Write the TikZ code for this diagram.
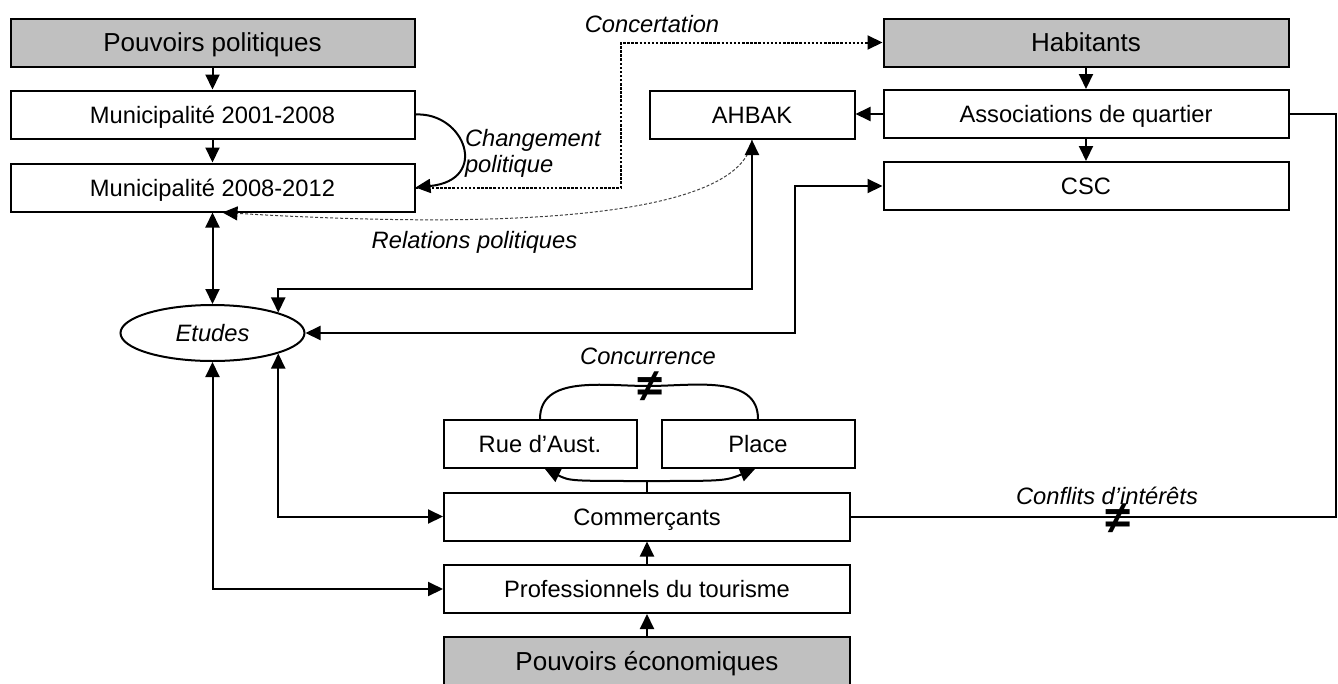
\documentclass[tikz,border=0pt]{standalone}
\usepackage{fontspec}
\setmainfont{Liberation Sans}
\usetikzlibrary{arrows.meta,shapes.geometric,calc}
\definecolor{hdr}{HTML}{C0C0C0}
\begin{document}
\begin{tikzpicture}[x=1pt,y=-1pt,
  line width=2pt,
  box/.style={draw, rectangle, minimum height=48pt, inner sep=0pt,
    font=\fontsize{23.7}{28}\selectfont, text height=17pt, text depth=0pt},
  hdrbox/.style={box, fill=hdr, font=\fontsize{26}{30}\selectfont, text height=18.6pt},
  lbl/.style={font=\fontsize{23.7}{28}\itshape\selectfont, inner sep=0pt, text height=17pt, text depth=0pt},
  tip/.style={-{Triangle[length=15pt,width=14pt]}},
  tips/.style={{Triangle[length=15pt,width=14pt]}-{Triangle[length=15pt,width=14pt]}},
  dotline/.style={dash pattern=on 2.5pt off 1.6pt},
  reldash/.style={draw=black!75, line width=1pt, dash pattern=on 3pt off 2pt},
  neq/.style={font=\fontsize{46}{46}\bfseries\selectfont, inner sep=0pt}
]
\useasboundingbox (0,0) rectangle (1338,683);

% nodes
\node[hdrbox, minimum width=404pt] (pp) at (212.5,42.5) {Pouvoirs politiques};
\node[box, minimum width=404pt] (m1) at (212.5,114.5) {Municipalité 2001-2008};
\node[box, minimum width=404pt] (m2) at (212.5,187.5) {Municipalité 2008-2012};
\node[hdrbox, minimum width=405pt] (hab) at (1086,42.5) {Habitants};
\node[box, minimum width=405pt] (assoc) at (1086,114) {Associations de quartier};
\node[box, minimum width=405pt] (csc) at (1086,186) {CSC};
\node[box, minimum width=205pt] (ahbak) at (752,115) {AHBAK};
\node[lbl, draw, ellipse, minimum width=184pt, minimum height=56pt] (etudes) at (212.5,333) {Etudes};
\node[box, minimum width=193pt] (rue) at (540,444) {Rue d’Aust.};
\node[box, minimum width=193pt] (place) at (758,444) {Place};
\node[box, minimum width=406pt] (comm) at (647,516.5) {Commerçants};
\node[box, minimum width=406pt] (prof) at (647,589) {Professionnels du tourisme};
\node[hdrbox, minimum width=406pt] (pe) at (647,661) {Pouvoirs économiques};

% labels
\node[lbl] (lconc) at (652,23.5) {Concertation};
\node[font=\fontsize{23.7}{26}\itshape\selectfont, align=left, anchor=west, inner sep=0pt] (lchg) at (464,153) {Changement\\politique};
\node[lbl] (lrel) at (474.5,240) {Relations politiques};
\node[lbl] (lcc) at (648,356) {Concurrence};
\node[lbl] (lconf) at (1107,495.5) {Conflits d’intérêts};

% coordinates
\coordinate (cc) at (621,42.5);
\coordinate (kx) at (795,0);
\coordinate (fk) at (647,481);
\coordinate (ccp) at (648,386);
\coordinate (rc) at (1336,0);

% connectors
\draw[tip] (pp) -- (m1);
\draw[tip] (m1) -- (m2);
\draw[tip] (hab) -- (assoc);
\draw[tip] (assoc) -- (csc);
\draw[tip] (assoc.west) -- (assoc.west -| ahbak.east);
\draw[tip] (m1.east) .. controls (465,112) and (490,180) .. (m2.east);
\draw[dotline, tip] (m2.east) -| (cc) -- (hab.west);
\draw[reldash, -{Triangle[length=15pt,width=14pt,color=black]}] (ahbak.south) .. controls (745,200) and (600,235) .. ([xshift=10pt]m2.south);
\draw[tips] (m2) -- (etudes);
\draw[tips] (ahbak.south) |- ([yshift=23pt]etudes.north east) -- (etudes.north east);
\draw[tips] (etudes.east) -| (kx |- csc.west) -- (csc.west);
\draw[tips] (etudes.south east) |- (comm.west);
\draw[tips] (etudes.south) |- (prof.west);
\draw (comm.north) -- (fk);
\draw[tip] (fk) .. controls (570,481) .. ([xshift=5pt]rue.south);
\draw[tip] (fk) .. controls (725,481) .. ([xshift=-3pt]place.south);
\draw[tip] (prof) -- (comm);
\draw[tip] (pe) -- (prof);
\draw (rue.north) to[out=90,in=180] (ccp) to[out=0,in=90] (place.north);
\draw (comm.east) -| (rc |- assoc.east) -- (assoc.east);

\node[neq] (ne1) at (650,387) {≠};
\node[neq] (ne2) at (1118,519) {≠};
\end{tikzpicture}
\end{document}
